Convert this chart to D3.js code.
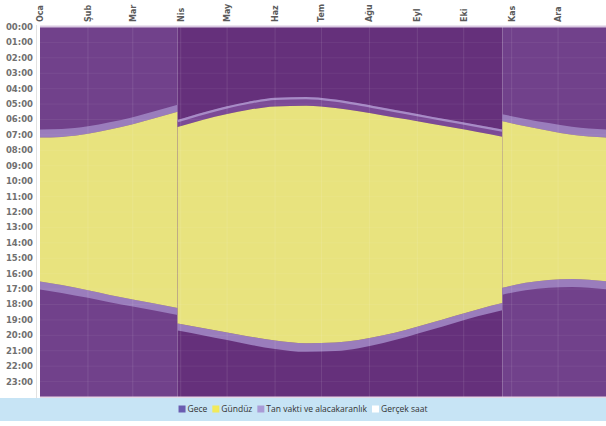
<!DOCTYPE html>
<html>
<head>
<meta charset="utf-8">
<script src="https://cdn.jsdelivr.net/npm/d3@7"></script>
<style>
  html, body { margin: 0; padding: 0; background: #fff; }
  svg { display: block; }
</style>
</head>
<body>
<svg id="chart" width="606" height="426"></svg>
<script>
// Sample days through the year; a day listed twice marks a clock change
// (first entry in the old time, second in the new one).
const dates = ["2008-01-01","2008-01-15","2008-02-01","2008-02-15","2008-03-01","2008-03-15","2008-03-30",
               "2008-03-30","2008-04-15","2008-05-01","2008-05-15","2008-06-01","2008-06-21","2008-07-10","2008-07-25","2008-08-10","2008-08-25","2008-09-10","2008-09-25","2008-10-10","2008-10-26",
               "2008-10-26","2008-11-10","2008-11-25","2008-12-10","2008-12-21","2009-01-01"];
// Which clock is in force for each sample: 0 = winter time, 1 = summer time
const summerTime = [0,0,0,0,0,0,0, 1,1,1,1,1,1,1,1,1,1,1,1,1,1, 0,0,0,0,0,0];
// Clock hours (decimal)
const dawn    = [6.65,6.62,6.44,6.18,5.85,5.47,5.04, 6.04,5.57,5.15,4.85,4.60,4.55,4.71,4.95,5.25,5.52,5.82,6.09,6.36,6.66, 5.66,5.96,6.23,6.47,6.59,6.65];
const sunrise = [7.17,7.13,6.93,6.65,6.31,5.92,5.49, 6.49,6.03,5.64,5.37,5.15,5.11,5.26,5.47,5.74,5.99,6.27,6.54,6.81,7.12, 6.12,6.44,6.73,6.99,7.11,7.17];
const sunset  = [16.51,16.74,17.08,17.38,17.67,17.94,18.23, 19.23,19.53,19.82,20.07,20.33,20.51,20.47,20.31,20.00,19.63,19.19,18.75,18.32,17.91, 16.91,16.59,16.41,16.34,16.39,16.49];
const dusk    = [17.03,17.25,17.57,17.85,18.13,18.39,18.68, 19.68,19.99,20.31,20.59,20.88,21.07,21.02,20.83,20.49,20.10,19.64,19.20,18.77,18.37, 17.37,17.07,16.91,16.86,16.91,17.01];

const monthLabels = ["Oca","Şub","Mar","Nis","May","Haz","Tem","Ağu","Eyl","Eki","Kas","Ara"];
const hourLabels = d3.range(0, 24).map(h => (h < 10 ? "0" : "") + h + ":00");
const legendLabels = ["Gece", "Gündüz", "Tan vakti ve alacakaranlık", "Gerçek saat"];

const col = {
  nightWinter: "#71418b",
  nightSummer: "#65307b",
  twilight: "#9a7dbc",
  twilightSummerTop: "#7b4a96",
  dawnEdge: "#a78bc6",
  day: "#e8e37e",
  legendBg: "#c7e4f5"
};
const legendColors = ["#6a5cb0", "#f2ea5a", "#a99bd6", "#ffffff"];

const svg = d3.select("#chart");
const W = 606, H = 426;
const plot = { left: 40, right: 606, top: 27, bottom: 397 };

const parse = d3.utcParse("%Y-%m-%d");
const rows = dates.map((d, i) => ({
  date: parse(d), st: summerTime[i],
  dawn: dawn[i], rise: sunrise[i], set: sunset[i], dusk: dusk[i]
}));

const x = d3.scaleUtc()
  .domain([parse("2008-01-01"), parse("2009-01-01")])
  .range([plot.left, plot.right]);
const y = d3.scaleLinear().domain([0, 24]).range([plot.top, plot.bottom]);

// Split samples into runs of constant clock
const segments = [];
rows.forEach((r, i) => {
  if (i === 0 || r.st !== rows[i - 1].st) segments.push({ st: r.st, rows: [] });
  segments[segments.length - 1].rows.push(r);
});

const g = svg.append("g");
const curve = d3.curveMonotoneX;

segments.forEach(seg => {
  const x0 = x(seg.rows[0].date), x1 = x(seg.rows[seg.rows.length - 1].date);
  // night
  g.append("rect")
    .attr("x", x0).attr("y", y(0))
    .attr("width", x1 - x0).attr("height", y(24) - y(0))
    .attr("fill", seg.st ? col.nightSummer : col.nightWinter);
  // morning twilight
  g.append("path").datum(seg.rows)
    .attr("fill", seg.st ? col.twilightSummerTop : col.twilight)
    .attr("d", d3.area().curve(curve).x(d => x(d.date)).y0(d => y(d.dawn)).y1(d => y(d.rise)));
  // evening twilight
  g.append("path").datum(seg.rows)
    .attr("fill", col.twilight)
    .attr("d", d3.area().curve(curve).x(d => x(d.date)).y0(d => y(d.set)).y1(d => y(d.dusk)));
  // daylight
  g.append("path").datum(seg.rows)
    .attr("fill", col.day)
    .attr("d", d3.area().curve(curve).x(d => x(d.date)).y0(d => y(d.rise)).y1(d => y(d.set)));
  if (seg.st) {
    g.append("path").datum(seg.rows)
      .attr("fill", "none").attr("stroke", col.dawnEdge).attr("stroke-width", 2.2)
      .attr("d", d3.line().curve(curve).x(d => x(d.date)).y(d => y(d.dawn) + 1));
  }
});

// faint grid
const months = d3.utcMonth.range(parse("2008-01-01"), parse("2009-01-01"));
g.append("g").selectAll("line").data(d3.range(1, 24)).join("line")
  .attr("x1", plot.left).attr("x2", plot.right)
  .attr("y1", d => y(d)).attr("y2", d => y(d))
  .attr("stroke", "#fff").attr("stroke-opacity", 0.06);
g.append("g").selectAll("line").data(months.slice(1)).join("line")
  .attr("x1", d => x(d)).attr("x2", d => x(d))
  .attr("y1", plot.top).attr("y2", plot.bottom)
  .attr("stroke", "#fff").attr("stroke-opacity", 0.1);

// frame edges
g.append("line").attr("x1", plot.left).attr("x2", plot.right).attr("y1", plot.top - 0.5).attr("y2", plot.top - 0.5)
  .attr("stroke", "#d9c9e2").attr("stroke-width", 2);
g.append("line").attr("x1", plot.left).attr("x2", plot.right).attr("y1", plot.bottom + 0.5).attr("y2", plot.bottom + 0.5)
  .attr("stroke", "#e6d6e6").attr("stroke-width", 2);
svg.append("line").attr("x1", 36.5).attr("x2", 36.5).attr("y1", plot.top - 2).attr("y2", plot.bottom + 2)
  .attr("stroke", "#e2e2e2").attr("stroke-width", 1);

// hour labels
svg.append("g").selectAll("text").data(d3.range(0, 24)).join("text")
  .attr("x", 33).attr("y", d => y(d))
  .attr("dy", "0.35em")
  .attr("text-anchor", "end")
  .attr("font-family", "DejaVu Sans, sans-serif")
  .attr("font-size", 8.5).attr("font-weight", "bold")
  .attr("fill", "#707070")
  .text((d, i) => hourLabels[i]);

// month labels
svg.append("g").selectAll("text").data(months).join("text")
  .attr("transform", d => `translate(${x(d) + 3},22) rotate(-90)`)
  .attr("text-anchor", "start")
  .attr("font-family", "DejaVu Sans, sans-serif")
  .attr("font-size", 8).attr("font-weight", "bold")
  .attr("fill", "#5a5a5a")
  .text((d, i) => monthLabels[i]);

// legend
svg.append("rect").attr("x", 0).attr("y", 398).attr("width", W).attr("height", 23).attr("fill", col.legendBg);
const leg = svg.append("g");
let cx = 0;
const items = legendLabels.map((t, i) => {
  const gi = leg.append("g");
  gi.append("rect").attr("x", cx).attr("y", -3.5).attr("width", 7).attr("height", 7).attr("fill", legendColors[i]);
  const tx = gi.append("text").attr("x", cx + 9).attr("y", 0).attr("dy", "0.35em")
    .attr("font-family", "Open Sans, sans-serif").attr("font-size", 8.5).attr("fill", "#333").text(t);
  cx += 9 + tx.node().getComputedTextLength() + 5;
  return gi;
});
const total = cx - 5;
leg.attr("transform", `translate(${303 - total / 2},409)`);
</script>
</body>
</html>
